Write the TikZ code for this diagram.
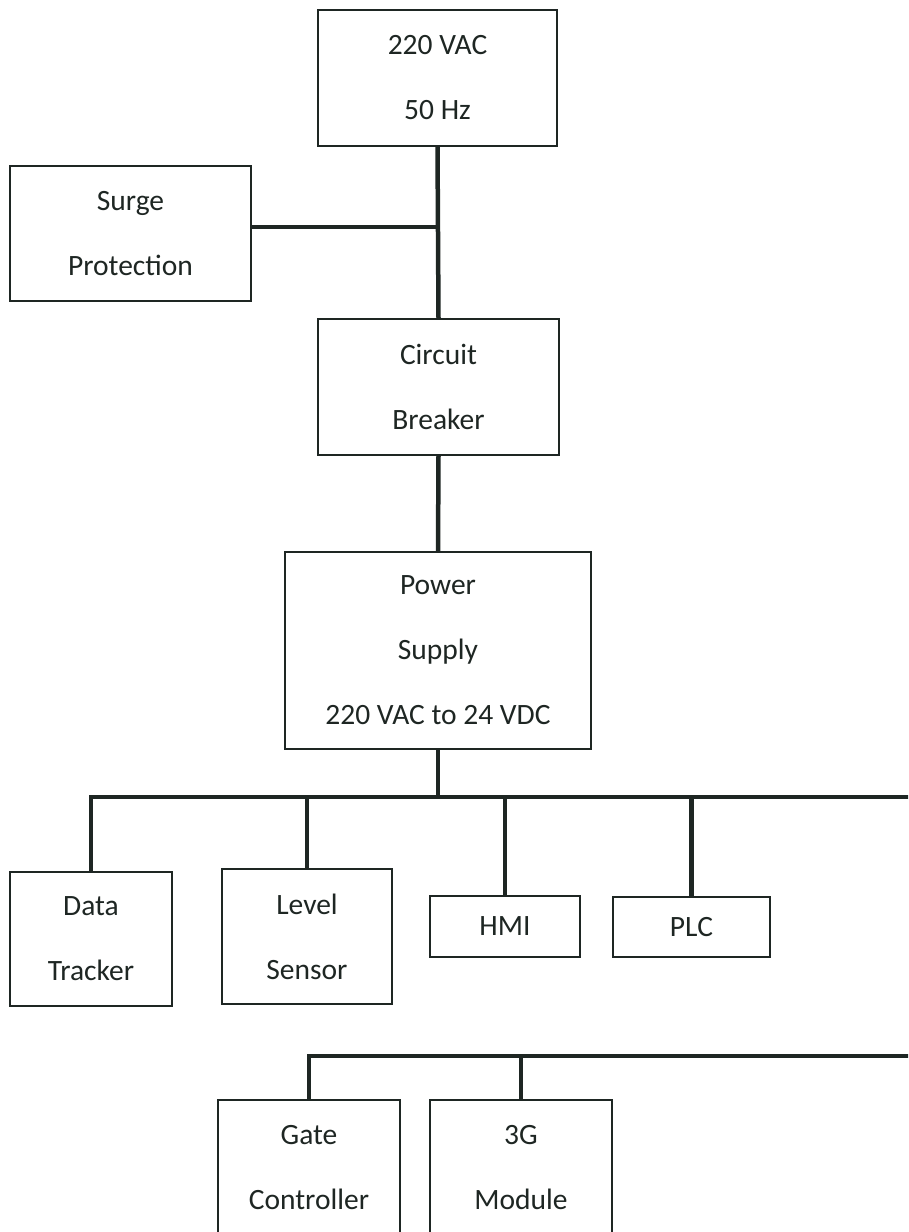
\documentclass[tikz,border=0pt]{standalone}
\usepackage{fontspec}
\setmainfont{Carlito}
\definecolor{ink}{RGB}{30,38,35}
\begin{document}
\begin{tikzpicture}[x=1pt,y=-1pt,
  blk/.style={draw=ink,line width=1.6pt,text=ink,align=center,inner sep=0pt,
    font=\fontsize{29.5}{65}\selectfont},
  wire/.style={draw=ink,line width=4.5pt}]
\useasboundingbox (0,0) rectangle (908,1232);
\clip (0,0) rectangle (908,1232);
\node[blk,minimum width=239,minimum height=136] (vac) at (437.5,78) {220 VAC\\50 Hz};
\node[blk,minimum width=241,minimum height=135] (surge) at (130.5,233.5) {Surge\\Protection};
\node[blk,minimum width=241,minimum height=136] (cb) at (438.5,387) {Circuit\\Breaker};
\node[blk,minimum width=306,minimum height=197] (ps) at (438,650.5) {Power\\Supply\\220 VAC to 24 VDC};
\node[blk,minimum width=162,minimum height=134] (dt) at (91,939) {Data\\Tracker};
\node[blk,minimum width=170,minimum height=135] (ls) at (307,936.5) {Level\\Sensor};
\node[blk,minimum width=150,minimum height=61] (hmi) at (505,926.5) {HMI};
\node[blk,minimum width=157,minimum height=60] (plc) at (691.5,927) {PLC};
\node[blk,minimum width=182,minimum height=136] (gate) at (309,1168) {Gate\\Controller};
\node[blk,minimum width=182,minimum height=136] (gm) at (521,1168) {3G\\Module};
\coordinate (j1) at (438,227);
\coordinate (bus) at (438,797);
\coordinate (busR) at (915,797);
\coordinate (bus2) at (307,1056);
\coordinate (bus2R) at (915,1056);
\draw[wire] (vac.south) -- (cb.north);
\draw[wire] (surge.east |- j1) -- (j1);
\draw[wire] (cb.south) -- (ps.north);
\draw[wire] (ps.south) -- (bus);
\draw[wire] (dt.north) -- (dt.north |- bus) -- (busR);
\draw[wire] (ls.north) -- (ls.north |- bus);
\draw[wire] (hmi.north) -- (hmi.north |- bus);
\draw[wire] (plc.north) -- (plc.north |- bus);
\draw[wire] (gate.north) -- (gate.north |- bus2) -- (bus2R);
\draw[wire] (gm.north) -- (gm.north |- bus2);
\end{tikzpicture}
\end{document}
